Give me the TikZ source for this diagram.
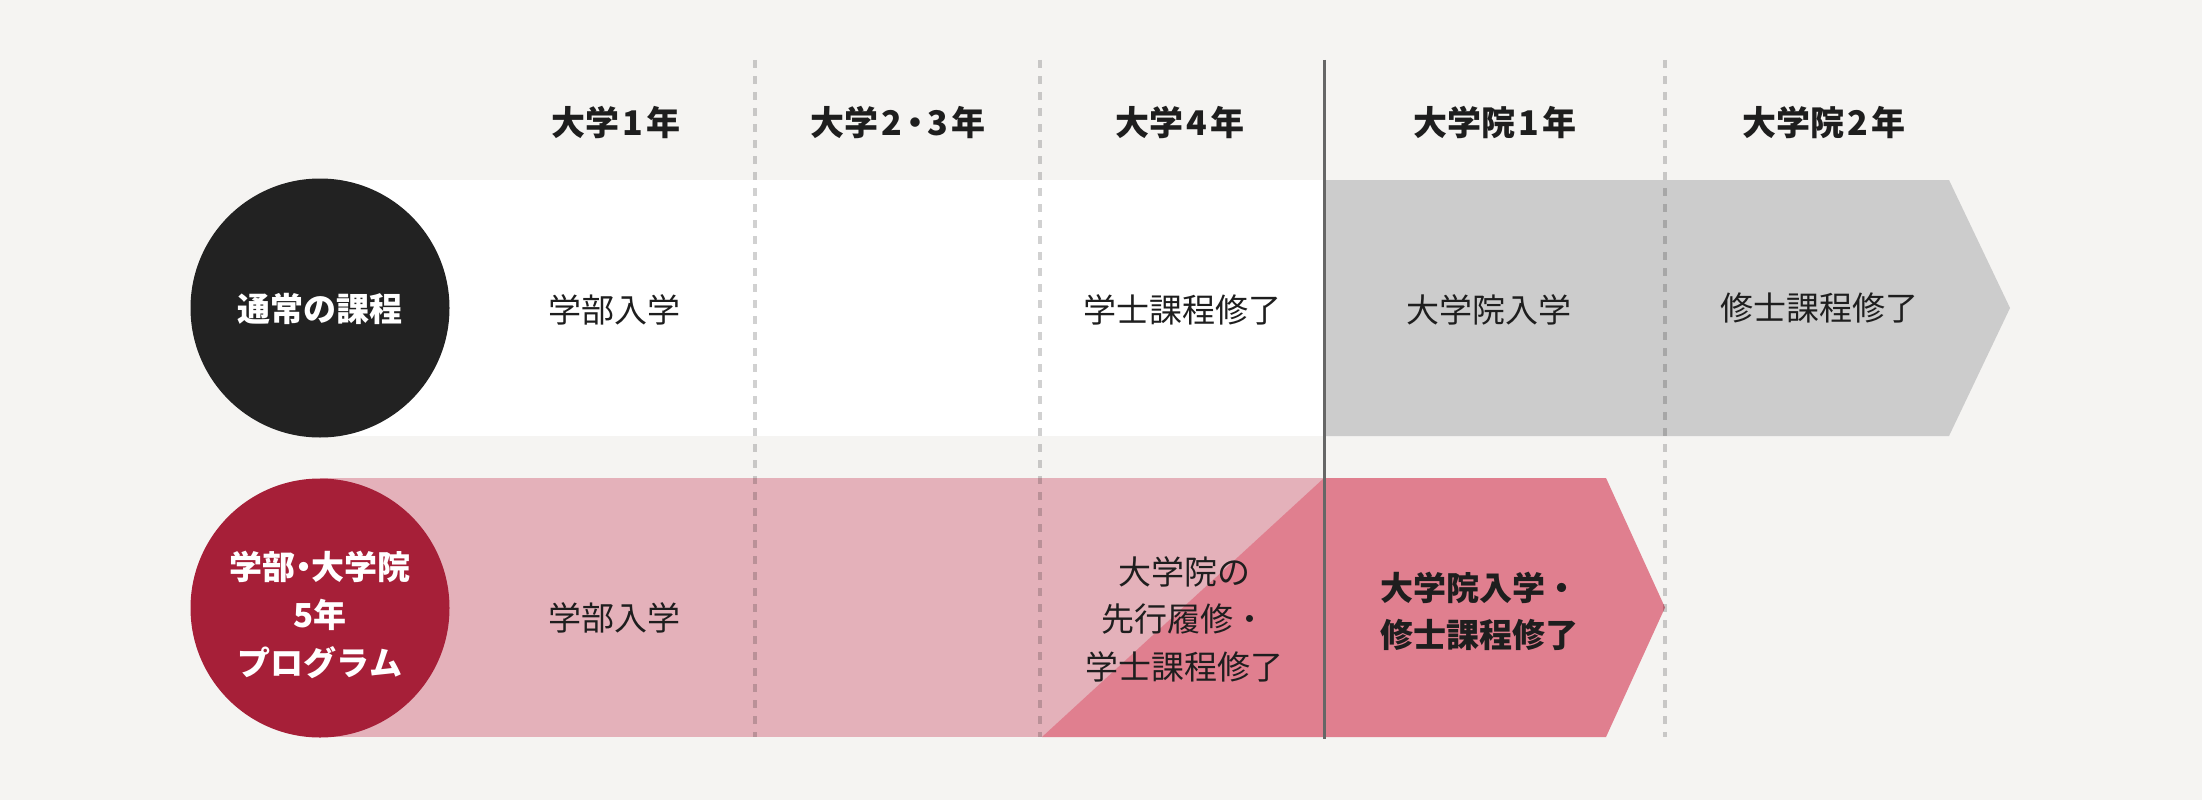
\documentclass[tikz,border=0pt]{standalone}
\usepackage{fontspec}
\setmainfont{Noto Sans CJK JP}
\definecolor{bgc}{HTML}{F5F4F2}
\definecolor{grayarrow}{HTML}{CCCCCC}
\definecolor{lightpink}{HTML}{E4B1BA}
\definecolor{darkpink}{HTML}{E07F8F}
\definecolor{crimson}{HTML}{A61F38}
\definecolor{blackc}{HTML}{222222}
\definecolor{txt}{HTML}{1E1E1E}
\definecolor{solidline}{HTML}{666666}
\newcommand{\dg}[1]{\kern3.5pt#1\kern3.5pt}
\newcommand{\ndot}{{\addfontfeatures{RawFeature=+palt}・}}
\begin{document}
\begin{tikzpicture}[x=1pt,y=-1pt,
  header/.style={font=\fontsize{34}{40}\selectfont\bfseries, text=txt, inner sep=0pt},
  body/.style={font=\fontsize{33}{47.5}\selectfont, text=txt, inner sep=0pt, align=center},
  bodybold/.style={font=\fontsize{33}{47}\selectfont\bfseries, text=txt, inner sep=0pt, align=center},
  circtext/.style={font=\fontsize{33}{48}\selectfont\bfseries, text=white, inner sep=0pt, align=center},
  yearsep/.style={draw=black, draw opacity=0.18, line width=3.5pt, dash pattern=on 8pt off 8pt},
  bigcircle/.style={circle, minimum size=259pt, inner sep=0pt}
]
\useasboundingbox (0,0) rectangle (2202,800);
\fill[bgc] (0,0) rectangle (2202,800);

% row 1 bands
\fill[white] (320,180) rectangle (1324,436);
\fill[grayarrow] (1324,180) -- (1949,180) -- (2010,308) -- (1949,436) -- (1324,436) -- cycle;

% row 2 bands
\fill[lightpink] (320,478) rectangle (1324,737);
\fill[darkpink] (1042,737) -- (1324,478) -- (1606,478) -- (1665,607.5) -- (1606,737) -- cycle;

% year separators
\coordinate (s1t) at (755,60);  \coordinate (s1b) at (755,737);
\coordinate (s2t) at (1040,60); \coordinate (s2b) at (1040,737);
\coordinate (s3t) at (1665,60); \coordinate (s3b) at (1665,737);
\coordinate (mt) at (1324,60);  \coordinate (mb) at (1324,739);
\draw[yearsep] (s1t) -- (s1b);
\draw[yearsep] (s2t) -- (s2b);
\draw[yearsep] (s3t) -- (s3b);
\draw[solidline, line width=3pt] (mt) -- (mb);

% circles
\node[bigcircle, fill=blackc] (c1) at (320,308) {};
\node[circtext] (c1t) at (320,309) {通常の課程};
\node[bigcircle, fill=crimson] (c2) at (320,608) {};
\node[circtext] (c2t) at (320,615) {学部\ndot 大学院\\5年\\プログラム};

% headers
\node[header] (h1) at (616,122) {大学\dg{1}年};
\node[header] (h2) at (898,122) {大学\dg{2}\kern-8pt・\kern-8pt\dg{3}年};
\node[header] (h3) at (1180,122) {大学\dg{4}年};
\node[header] (h4) at (1495,122) {大学院\dg{1}年};
\node[header] (h5) at (1824,122) {大学院\dg{2}年};

% row 1 texts
\node[body] (r1a) at (614,310) {学部入学};
\node[body] (r1b) at (1182,310) {学士課程修了};
\node[body] (r1c) at (1489,310) {大学院入学};
\node[body] (r1d) at (1819,308) {修士課程修了};

% row 2 texts
\node[body] (r2a) at (614,618) {学部入学};
\node[body] (r2b) at (1184,619) {大学院の\\先行履修・\\学士課程修了};
\node[bodybold] (r2c) at (1479,611) {大学院入学・\\修士課程修了};
\end{tikzpicture}
\end{document}
